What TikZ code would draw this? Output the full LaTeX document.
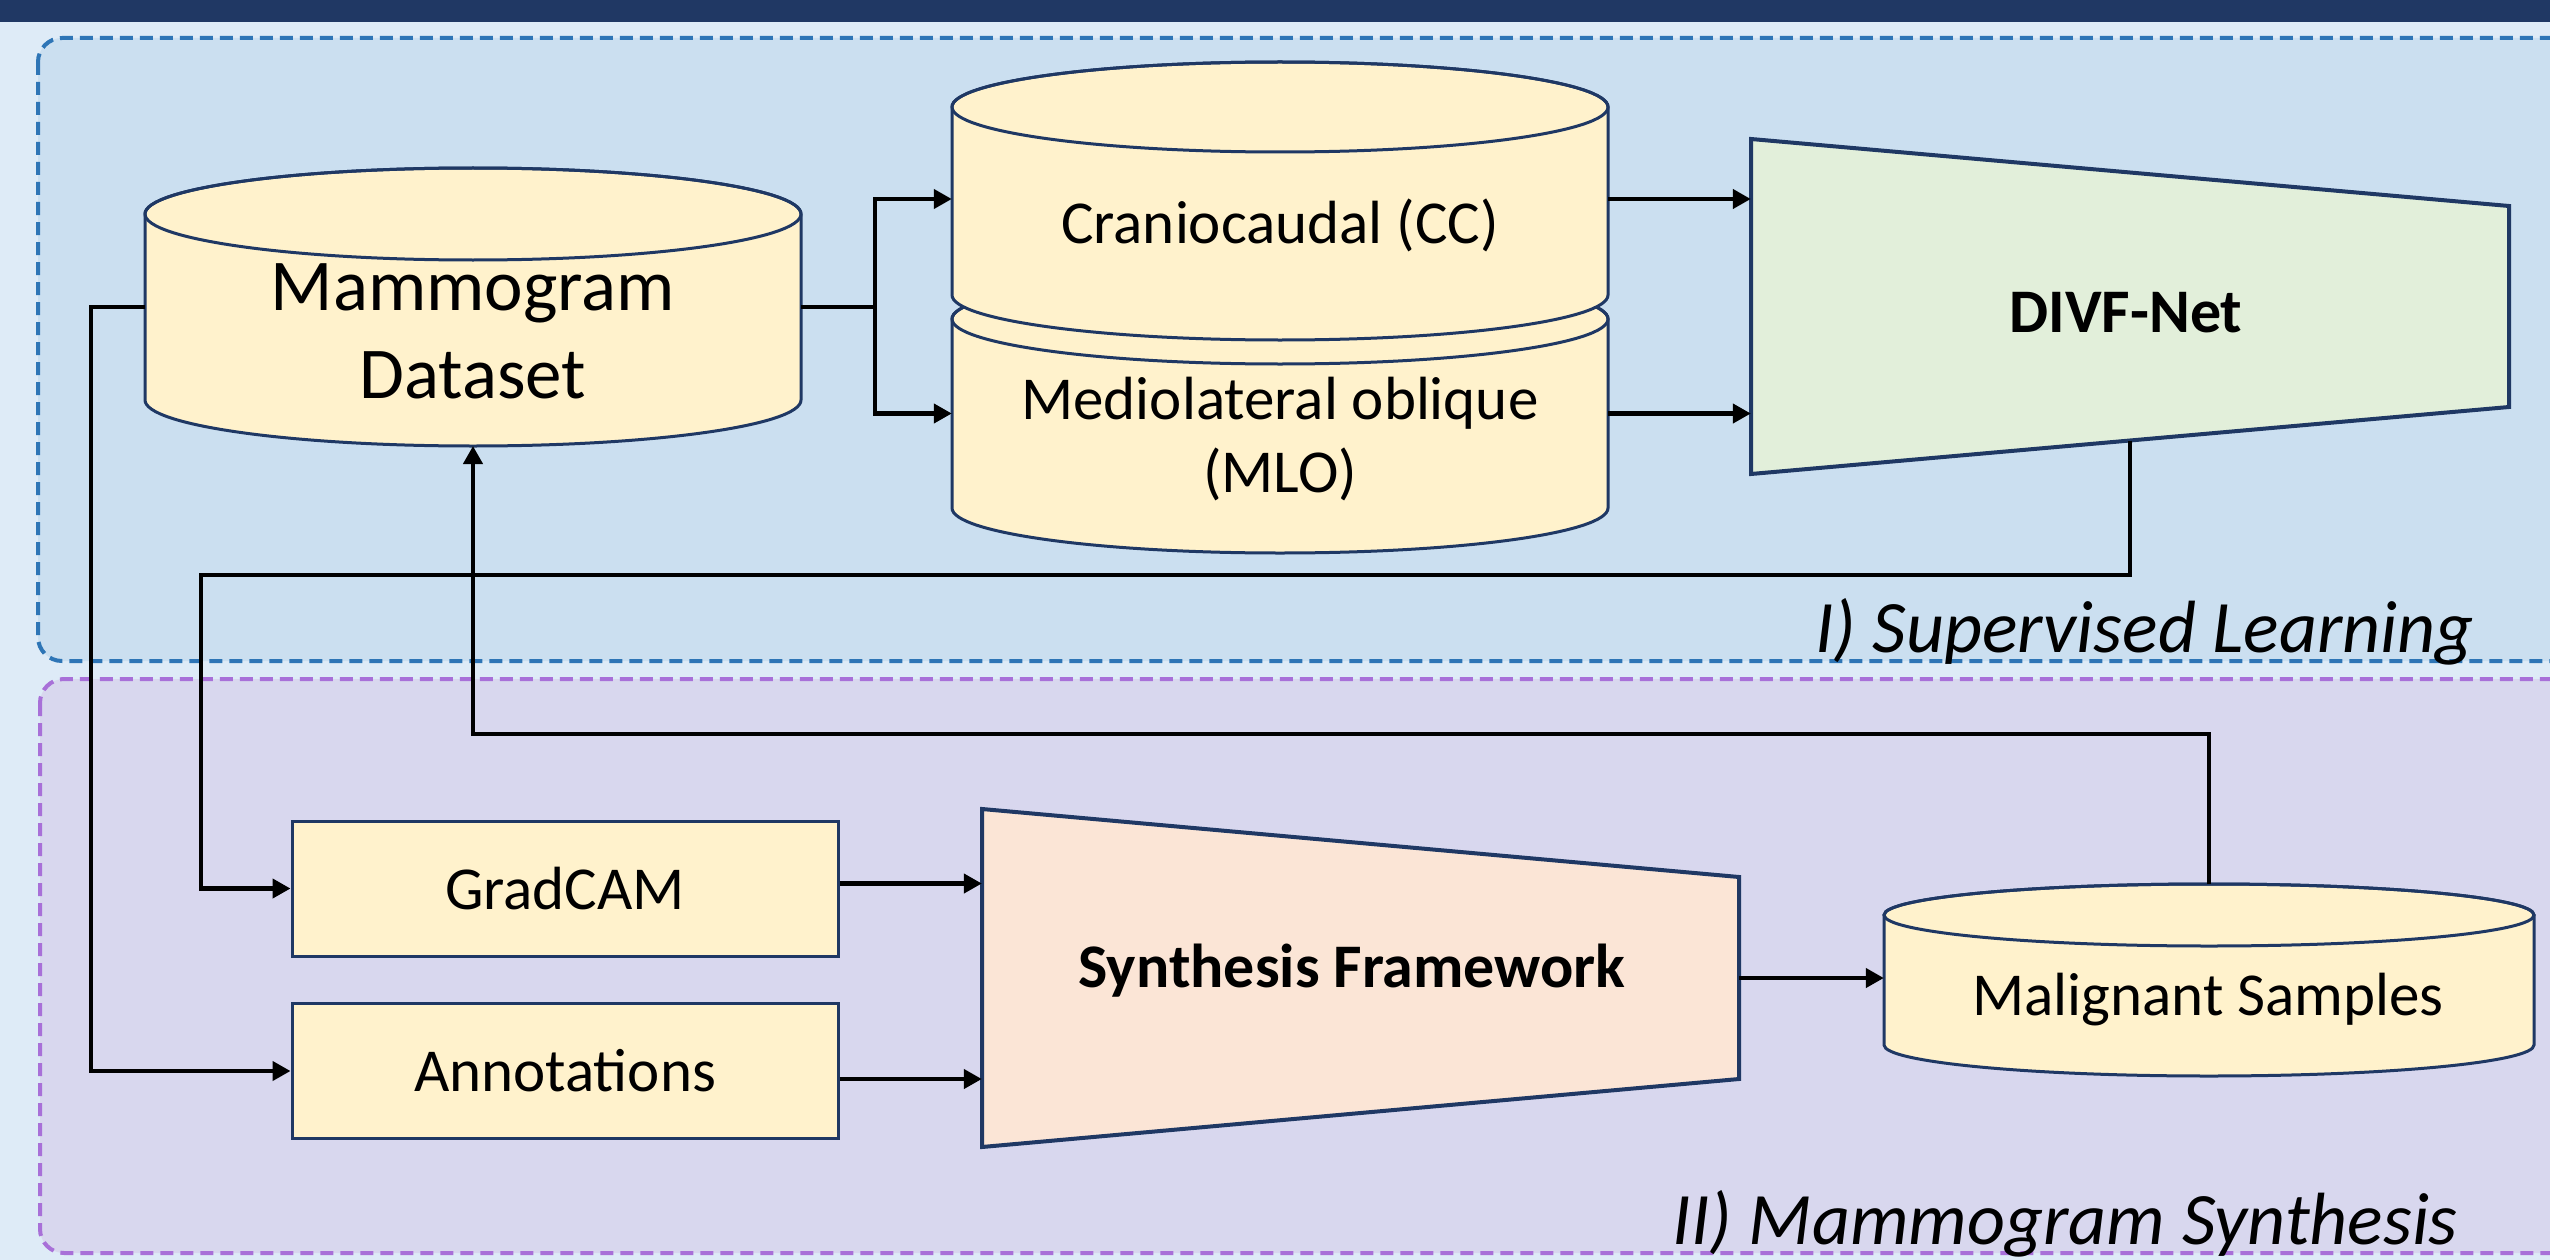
\documentclass[tikz,border=0pt]{standalone}
\usepackage{fontspec}
\setmainfont{Carlito}
\usetikzlibrary{arrows.meta,calc}
\definecolor{bannerC}{HTML}{203864}
\definecolor{outerC}{HTML}{DEEBF7}
\definecolor{blueReg}{HTML}{CBDFF0}
\definecolor{blueDash}{HTML}{2E75B6}
\definecolor{purpReg}{HTML}{D8D7EE}
\definecolor{purpDash}{HTML}{A870D8}
\definecolor{cylY}{HTML}{FFF2CC}
\definecolor{outl}{HTML}{1F3864}
\definecolor{greenT}{HTML}{E2EFDA}
\definecolor{peachT}{HTML}{FBE5D6}
\newcommand\myFontBody{\fontsize{61}{73}\selectfont}
\newcommand\myFontBig{\fontsize{73}{88}\selectfont}
\newcommand\myFontBold{\fontsize{62}{74}\selectfont\bfseries}
\newcommand\myFontLab{\fontsize{74}{88}\selectfont\itshape}
\newcommand\mycyl[5]{%
  \path[cylst] (#1-#4,#2) -- (#1-#4,#3) arc[start angle=180,end angle=0,x radius=#4,y radius=#5]
     -- (#1+#4,#2) arc[start angle=0,end angle=-180,x radius=#4,y radius=#5] -- cycle;
  \draw[cylln] (#1,#2) ellipse [x radius=#4, y radius=#5];}
\begin{document}
\begin{tikzpicture}[x=1pt,y=-1pt,
  conn/.style={line width=4.2pt, black},
  arr/.style={conn, -{Triangle[length=18pt,width=19pt]}},
  cylst/.style={fill=cylY, draw=outl, line width=3pt},
  cylln/.style={draw=outl, line width=3pt},
  box/.style={draw=outl, fill=cylY, line width=3pt, minimum width=546pt, minimum height=135pt, inner sep=0pt, font=\myFontBody},
  anch/.style={inner sep=0pt, draw=none, fill=none},
  trap/.style={draw=outl, line width=4pt, line join=miter},
  txt/.style={inner sep=0pt, anchor=base},
  region/.style={line width=4pt, dash pattern=on 13pt off 7pt, rounded corners=24pt}
]
\useasboundingbox (0,0) rectangle (2550,1260);
\clip (0,0) rectangle (2550,1260);
% backgrounds
\fill[outerC] (0,0) rectangle (2550,1260);
\fill[bannerC] (0,0) rectangle (2550,22);
\path[region, fill=blueReg, draw=blueDash] (38,38) rectangle (2600,661);
\path[region, fill=purpReg, draw=purpDash] (40,679) rectangle (2600,1253);

% cylinders
\mycyl{473}{214}{400}{328}{46}
\node[anch, minimum width=656pt, minimum height=186pt] (mam) at (473,307) {};
\node[txt, font=\myFontBig] (mamT1) at (473,310) {Mammogram};
\node[txt, font=\myFontBig] (mamT2) at (473,398) {Dataset};

\mycyl{1280}{319}{508}{328}{45}
\node[anch, minimum width=656pt, minimum height=189pt] (mlo) at (1280,413.5) {};
\mycyl{1280}{107}{295}{328}{45}
\node[anch, minimum width=656pt, minimum height=188pt] (cc) at (1280,201) {};
\node[txt, font=\myFontBody] (ccT) at (1280,243) {Craniocaudal (CC)};
\node[txt, font=\myFontBody] (mloT1) at (1280,419) {Mediolateral oblique};
\node[txt, font=\myFontBody] (mloT2) at (1280,492) {(MLO)};

\mycyl{2209}{915}{1045}{325}{31}
\node[anch, minimum width=650pt, minimum height=130pt] (mal) at (2209,980) {};
\node[txt, font=\myFontBody] (malT) at (2208,1015) {Malignant Samples};
\coordinate (malTop) at (2209,884);
\coordinate (mamBot) at (473,446);

% trapezoids
\coordinate (dtl) at (1751,139); \coordinate (dtr) at (2509,206);
\coordinate (dbr) at (2509,407); \coordinate (dbl) at (1751,474);
\draw[trap, fill=greenT] (dtl) -- (dtr) -- (dbr) -- (dbl) -- cycle;
\node[anch, minimum width=758pt, minimum height=335pt] (divf) at (2130,306.5) {};
\node[txt, font=\myFontBold] (divfT) at (2126,332) {DIVF-Net};
\coordinate (dbot) at ($(dbl)!0.5!(dbr)$);

\draw[trap, fill=peachT] (982,809) -- (1739,877) -- (1739,1079) -- (982,1147) -- cycle;
\node[anch, minimum width=757pt, minimum height=338pt] (synth) at (1360.5,978) {};
\node[txt, font=\myFontBold] (synthT) at (1352,987) {Synthesis Framework};

% boxes
\node[box] (grad) at (565,888.5) {GradCAM};
\node[box] (ann) at (565,1071) {Annotations};

% connectors
\draw[arr] (mam.west) -- ++(-54,0) |- (ann.west);
\draw[conn] (mam.east) -- (875,307) coordinate (split);
\draw[arr] (split) |- ([yshift=2pt]cc.west);
\draw[arr] (split) |- (mlo.west);
\draw[arr] ([yshift=2pt]cc.east) -- ([yshift=2pt]cc.east -| divf.west);
\draw[arr] (mlo.east) -- (mlo.east -| divf.west);
\draw[arr] (dbot) |- (201,575) |- (grad.west);
\draw[arr] ([yshift=5pt]grad.east) -- ([yshift=5pt]grad.east -| synth.west);
\draw[arr] ([yshift=-8pt]ann.east) -- ([yshift=-8pt]ann.east -| synth.west);
\draw[arr] (synth.east) -- (synth.east -| mal.west);
\draw[arr] (malTop) -- ++(0,-150) -| (mamBot);

% region labels
\node[inner sep=0pt, anchor=base east, font=\myFontLab] (labI) at (2474,652) {I) Supervised Learning};
\node[inner sep=0pt, anchor=base east, font=\myFontLab] (labII) at (2458,1244) {II) Mammogram Synthesis};
\end{tikzpicture}
\end{document}
